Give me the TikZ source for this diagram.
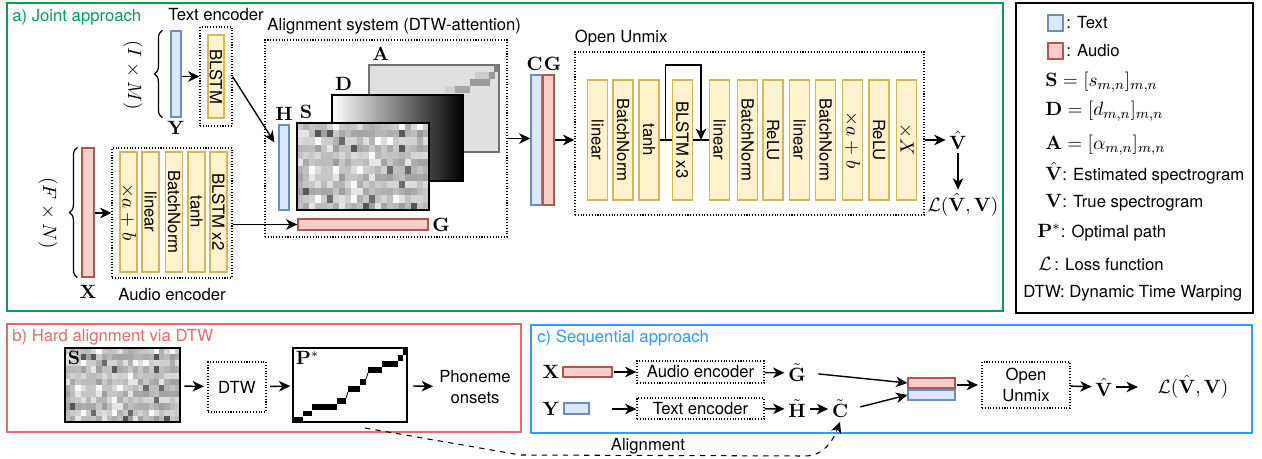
\documentclass[tikz,border=0pt]{standalone}
\usepackage[no-math]{fontspec}
\usepackage{amsmath, amssymb}
\setsansfont{TeX Gyre Heros}
\usepackage{tikz}
\usetikzlibrary{arrows.meta, positioning, decorations.pathreplacing, calc}
\definecolor{jointgreen}{RGB}{0,160,80}
\definecolor{hardred}{RGB}{234,107,102}
\definecolor{seqblue}{RGB}{51,153,255}
\definecolor{yelfill}{RGB}{255,242,204}
\definecolor{yeldraw}{RGB}{214,182,86}
\definecolor{txtfill}{RGB}{218,232,252}
\definecolor{txtdraw}{RGB}{108,142,191}
\definecolor{audfill}{RGB}{248,206,204}
\definecolor{auddraw}{RGB}{184,84,80}
\newlength{\pxu}
\setlength{\pxu}{0.02cm}
\newcommand{\msym}[1]{{\fontsize{11}{13}\selectfont$#1$}}

% grey cells of the similarity matrix S
\newcommand{\simcells}[4]{%
  \pgfmathsetseed{17}%
  \foreach \i in {0,...,21}{%
    \foreach \j in {0,...,11}{%
      \pgfmathrandominteger{\r}{0}{100}%
      \pgfmathsetmacro{\g}{(\r<4 ? 62 : (\r>90 ? 6 : 16+0.22*\r)) + (mod(\j,2)==0 ? -4 : 4)}%
      \fill[black!\g] ({#1+\i*#3/22},{#2+\j*#4/12}) rectangle ++({#3/22+0.4},{#4/12+0.4});
    }}}

\begin{document}
\begin{tikzpicture}[x=0.02cm, y=-0.02cm,
  every node/.style={font=\sffamily\fontsize{9.5}{11.5}\selectfont},
  panel/.style={draw=#1, line width=0.9pt, inner sep=0},
  ptitle/.style={anchor=west, inner sep=0, text=#1},
  sym/.style={font=\fontsize{10.5}{12}\selectfont, inner sep=2pt},
  block/.style={draw, densely dotted, line width=0.6pt, inner sep=0},
  layer/.style={draw=yeldraw, fill=yelfill, line width=0.7pt, rotate=-90, inner sep=0},
  txtvec/.style={draw=txtdraw, fill=txtfill, line width=0.7pt, inner sep=0},
  audvec/.style={draw=auddraw, fill=audfill, line width=0.7pt, inner sep=0},
  arr/.style={-{Stealth[length=6.5pt, width=6pt, inset=2pt]}, line width=0.8pt},
  dasharr/.style={arr, dashed, line width=0.6pt},
  legtext/.style={anchor=west, inner sep=0, font=\sffamily\fontsize{9.5}{11.5}\selectfont},
]
\useasboundingbox (0,0) rectangle (1262,459);

% ── a) Joint approach ──
\node[panel=jointgreen, minimum width=996*\pxu, minimum height=308*\pxu] (joint) at (505,157) {};
\node[ptitle=jointgreen] at (12,17) {a) Joint approach};

% text encoder
\node[txtvec, minimum width=10*\pxu, minimum height=86*\pxu] (yvec) at (176,74) {};
\node[sym, below=0pt of yvec] (ylab) {$\mathbf{Y}$};
\draw[decorate, decoration={brace, amplitude=4.5pt}, line width=0.7pt]
  ([xshift=-8*\pxu]yvec.south west) -- ([xshift=-8*\pxu]yvec.north west);
\node[sym, rotate=-90] (ysize) at (133,75) {$(I\times M)$};
\node[block, minimum width=32*\pxu, minimum height=99*\pxu] (txtenc) at (216,76.5) {};
\node[layer, minimum width=83*\pxu, minimum height=16*\pxu] (tblstm) at (216,76.5) {BLSTM};
\node[above=0pt of txtenc] {Text encoder};
\draw[arr] (yvec.east |- txtenc.west) -- (txtenc.west);

% audio encoder
\node[audvec, minimum width=12*\pxu, minimum height=129*\pxu] (xvec) at (88,212.5) {};
\node[sym, below=2pt of xvec] (xlab) {$\mathbf{X}$};
\draw[decorate, decoration={brace, amplitude=4.5pt}, line width=0.7pt]
  ([xshift=-4*\pxu]xvec.south west) -- ([xshift=-4*\pxu]xvec.north west);
\node[sym, rotate=-90] (xsize) at (48,213) {$(F\times N)$};
\node[block, minimum width=120*\pxu, minimum height=130*\pxu] (audenc) at (172,213) {};
\foreach \cx/\lab [count=\k] in {128.5/\msym{\times a+b}, 150.5/linear, 174/BatchNorm, 196.5/tanh, 218.5/BLSTM x2}
  \node[layer, minimum width=120*\pxu, minimum height=17*\pxu] (ae\k) at (\cx,212) {\lab};
\node[below=2pt of audenc] {Audio encoder};
\draw[arr] (xvec.east |- audenc.west) -- (audenc.west);

% alignment system
\node[block, minimum width=242*\pxu, minimum height=197*\pxu] (alignbox) at (386,138.5) {};
\node[anchor=south west, inner xsep=1.5pt, inner ysep=3pt] at (alignbox.north west) {Alignment system (DTW-attention)};
\node[draw=black!55, fill=black!12, line width=0.7pt, minimum width=130*\pxu, minimum height=87*\pxu, inner sep=0] (amat) at (434,108.5) {};
\foreach \a/\b/\c/\d/\g in {475/72/489/79/20, 445/86/455/93/18, 494/65/499/72/50, 489/72/495/79/40, 470/79/490/86/40, 455/86/470/93/35}
  \fill[black!\g] (\a,\b) rectangle (\c,\d);
\node[sym, anchor=south west] at (amat.north west) {$\mathbf{A}$};
\node[draw=black, line width=0.9pt, shading=axis, left color=white, right color=black,
      minimum width=131*\pxu, minimum height=86*\pxu, inner sep=0] (dmat) at (397.5,138) {};
\node[sym, anchor=south west] at (dmat.north west) {$\mathbf{D}$};
\simcells{297}{123}{132}{87}
\node[draw=black, line width=1.2pt, minimum width=132*\pxu, minimum height=87*\pxu, inner sep=0] (smat) at (363,166.5) {};
\node[sym, anchor=south west] at (smat.north west) {$\mathbf{S}$};
\node[txtvec, minimum width=10*\pxu, minimum height=85*\pxu] (hvec) at (284,167.5) {};
\node[sym, above=0pt of hvec] {$\mathbf{H}$};
\node[audvec, minimum width=130*\pxu, minimum height=11*\pxu] (gvec) at (363,224.5) {};
\node[sym, right=0pt of gvec] {$\mathbf{G}$};
\coordinate (hin) at ([xshift=-4*\pxu, yshift=-18*\pxu]hvec.north west);
\draw[arr] (txtenc.east) -- (hin);
\draw[arr] (audenc.east |- gvec.west) -- (gvec.west);

% concatenation
\node[txtvec, minimum width=11*\pxu, minimum height=130*\pxu] (cvec) at (536.5,140) {};
\node[audvec, minimum width=11*\pxu, minimum height=130*\pxu] (gcat) at (548.5,140) {};
\node[sym, above=0pt of cvec, xshift=-2*\pxu] {$\mathbf{C}$};
\node[sym, above=0pt of gcat, xshift=4*\pxu] {$\mathbf{G}$};
\draw[arr] (alignbox.east) -- (alignbox.east -| cvec.west);

% open unmix
\node[block, minimum width=349*\pxu, minimum height=163*\pxu] (unmix) at (749.5,133.5) {};
\node[anchor=south west, inner xsep=0pt, inner ysep=3pt] at (unmix.north west) {Open Unmix};
\foreach \cx/\lab [count=\k] in {597.5/linear, 623/BatchNorm, 649/tanh, 682.5/BLSTM x3, 719.5/linear,
    747.5/BatchNorm, 773/ReLU, 799.5/linear, 825.5/BatchNorm, 852.5/\msym{\times a+b}, 879/ReLU, 906.5/\msym{\times X}}
  \node[layer, minimum width=120*\pxu, minimum height=20*\pxu] (ou\k) at (\cx,140) {\lab};
\draw[line width=0.8pt] (ou3) -- (ou4);
\draw[line width=0.8pt] (ou4) -- (ou5);
\coordinate (skipa) at ($(ou3.center)!0.5!(ou4.center)$);
\coordinate (skipb) at ($(ou4.center)!0.5!(ou5.center)$);
\draw[arr] (skipa) -- ++(0,-75) -| (skipb);
\draw[arr] (gcat.east) -- (gcat.east -| unmix.west);
\node[sym] (vhat) at (958,140) {$\hat{\mathbf{V}}$};
\node[sym] (loss) at (963,205) {$\mathcal{L}(\hat{\mathbf{V}},\mathbf{V})$};
\draw[arr] (unmix.east |- vhat) -- (vhat);
\draw[arr] (vhat.south) -- (vhat.south |- loss.north);

% ── legend ──
\node[draw, line width=0.7pt, minimum width=237*\pxu, minimum height=310*\pxu, inner sep=0] (legend) at (1134.5,158) {};
\node[txtvec, minimum width=15*\pxu, minimum height=16*\pxu] (txtkey) at (1055.5,23) {};
\node[legtext] at (1066,23) {: Text};
\node[audvec, minimum width=15*\pxu, minimum height=16*\pxu] (audkey) at (1055.5,51) {};
\node[legtext] at (1066,51) {: Audio};
\node[legtext] (lgs) at (1045,82) {\msym{\mathbf{S}=[s_{m,n}]_{m,n}}};
\node[legtext] (lgd) at (1045,111) {\msym{\mathbf{D}=[d_{m,n}]_{m,n}}};
\node[legtext] (lga) at (1045,145) {\msym{\mathbf{A}=[\alpha_{m,n}]_{m,n}}};
\node[legtext] (lgv) at (1045,173) {\msym{\hat{\mathbf{V}}}: Estimated spectrogram};
\node[legtext] (lgtv) at (1045,203) {\msym{\mathbf{V}}: True spectrogram};
\node[legtext] (lgp) at (1037,233) {\msym{\mathbf{P}^*}: Optimal path};
\node[legtext] (lgl) at (1038,264) {\msym{\mathcal{L}}\,: Loss function};
\node[legtext] (lgdtw) at (1023,293) {DTW: Dynamic Time Warping};

% ── b) Hard alignment via DTW ──
\node[panel=hardred, minimum width=514*\pxu, minimum height=108*\pxu] (hard) at (264,378) {};
\node[ptitle=hardred] at (12,337) {b) Hard alignment via DTW};
\simcells{65}{348}{115}{74}
\node[draw=black, line width=1.1pt, minimum width=115*\pxu, minimum height=74*\pxu, inner sep=0] (sb) at (122.5,385) {};
\node[sym, anchor=north west] at (sb.north west) {$\mathbf{S}$};
\node[block, minimum width=58*\pxu, minimum height=50*\pxu] (dtw) at (237,387) {DTW};
\node[draw=black, line width=1.1pt, minimum width=114*\pxu, minimum height=74*\pxu, inner sep=0] (pstar) at (350,385) {};
\node[sym, anchor=north west] at (pstar.north west) {$\mathbf{P}^*$};
\foreach \a/\b/\c/\d in {294/417/303/422, 303/411/312/416, 312/404/337/410, 337/398/346/404, 348/386/360/392,
    360/379/366/385, 368/367/382/373, 382/361/398/367, 398/355/403/361, 403/349/407/355}
  \fill (\a,\b) rectangle (\c,\d);
\draw[line width=0.5pt] (346,398) -- (348,392) (366,379) -- (368,373);
\node[align=center] (phon) at (475,387) {Phoneme\\onsets};
\draw[arr, shorten <=2pt, shorten >=2pt] (sb) -- (dtw);
\draw[arr, shorten <=2pt, shorten >=1pt] (dtw) -- (pstar);
\draw[arr, shorten <=3pt] (pstar) -- (phon);

% ── c) Sequential approach ──
\node[panel=seqblue, minimum width=721*\pxu, minimum height=108*\pxu] (seq) at (891.5,379) {};
\node[ptitle=seqblue] at (537,338) {c) Sequential approach};
\node[sym] (xlab2) at (551,372) {$\mathbf{X}$};
\node[audvec, minimum width=49*\pxu, minimum height=10*\pxu] (xrect) at (587.5,372) {};
\node[block, minimum width=127*\pxu, minimum height=22*\pxu] (audenc2) at (700.5,372) {Audio encoder};
\node[sym] (gt) at (797,373) {$\tilde{\mathbf{G}}$};
\node[sym] (ylab2) at (551,409) {$\mathbf{Y}$};
\node[txtvec, minimum width=25*\pxu, minimum height=11*\pxu] (yrect) at (576.5,408.5) {};
\node[block, minimum width=127*\pxu, minimum height=21*\pxu] (txtenc2) at (700.5,408.5) {Text encoder};
\node[sym] (ht) at (797,409) {$\tilde{\mathbf{H}}$};
\node[sym] (ct) at (840,409) {$\tilde{\mathbf{C}}$};
\node[audvec, minimum width=47*\pxu, minimum height=10*\pxu] (catp) at (931.5,383) {};
\node[txtvec, minimum width=47*\pxu, minimum height=10*\pxu] (catb) at (931.5,395) {};
\node[block, minimum width=88*\pxu, minimum height=46*\pxu, align=center] (unmix2) at (1026,385) {Open\\Unmix};
\node[sym] (vhat2) at (1104,387) {$\hat{\mathbf{V}}$};
\node[sym] (loss2) at (1193,387) {$\mathcal{L}(\hat{\mathbf{V}},\mathbf{V})$};
\coordinate (ystart) at (612,409);
\draw[arr, shorten <=1pt] (xrect) -- (audenc2);
\draw[arr] (ystart) -- (ystart -| txtenc2.west);
\draw[arr] (audenc2) -- (gt);
\draw[arr] (txtenc2) -- (ht);
\draw[arr] (ht) -- (ct);
\draw[arr, shorten <=5pt] (gt.east) -- (catp.west);
\draw[arr, shorten <=5pt] (ct.east) -- (catb.west);
\draw[arr, shorten <=1pt, shorten >=2pt] (catp.east |- unmix2.west) -- (unmix2.west);
\draw[arr] (unmix2) -- (vhat2);
\draw[arr, shorten >=9pt] (vhat2) -- (loss2);

% alignment path handed over
\coordinate (al1) at (520,455);
\coordinate (al2) at (805,456);
\draw[dasharr] ([xshift=15*\pxu, yshift=-5*\pxu]pstar.south) -- (al1) -- (al2) to[out=0, in=-110] (ct.south);
\node (alab) at (648,446) {Alignment};

\end{tikzpicture}
\end{document}
